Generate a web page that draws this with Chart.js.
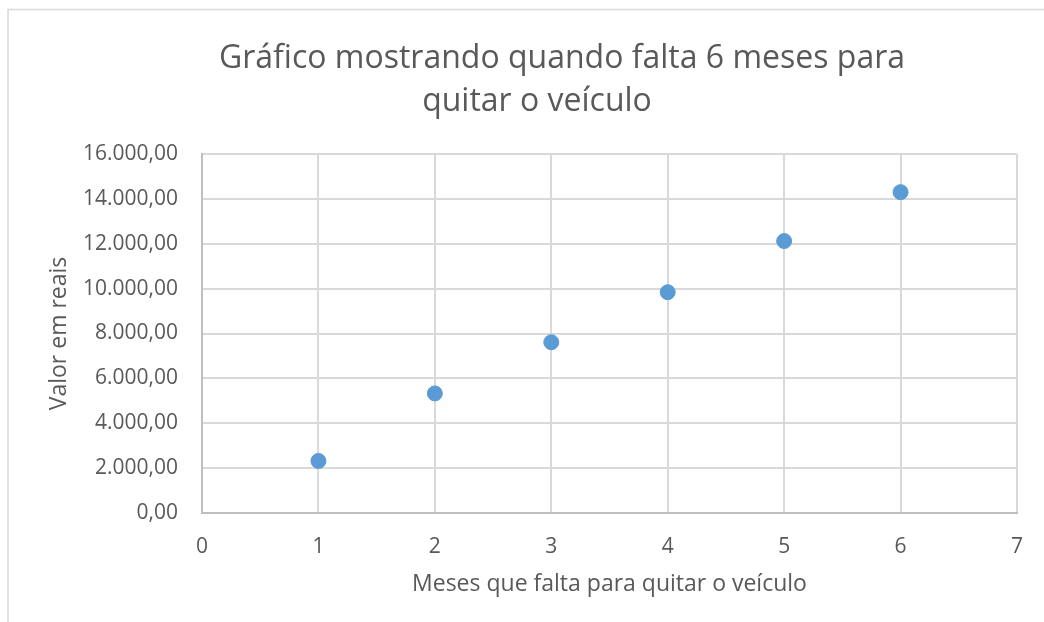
<!DOCTYPE html>
<html>
<head>
<meta charset="utf-8">
<style>
  html, body { margin: 0; padding: 0; background: #fff; }
  .wrap { position: relative; width: 1044px; height: 622px; }
</style>
</head>
<body>
<div class="wrap">
  <canvas id="grafico" width="1044" height="622"></canvas>
</div>

<script src="https://cdn.jsdelivr.net/npm/chart.js"></script>
<script>
// dados
const meses = [1, 2, 3, 4, 5, 6];
const valores = [2320, 5330, 7610, 9840, 12120, 14300];
const tituloLinhas = ['Gráfico mostrando quando falta 6 meses para', 'quitar o veículo'];

const cinza = '#595959';
const fonte = "'Open Sans', 'DejaVu Sans', sans-serif";

// formato 16.000,00
function formatoBR(v) {
  const partes = v.toFixed(2).split('.');
  partes[0] = partes[0].replace(/\B(?=(\d{3})+(?!\d))/g, '.');
  return partes.join(',');
}

// borda do gráfico e título em duas linhas (como no Excel)
const molduraTitulo = {
  id: 'molduraTitulo',
  beforeDraw(chart) {
    const ctx = chart.ctx;
    ctx.save();
    ctx.strokeStyle = '#d9d9d9';
    ctx.lineWidth = 1.5;
    ctx.strokeRect(8, 9.5, 1100, 700);
    ctx.restore();
  },
  afterDraw(chart) {
    const ctx = chart.ctx;
    ctx.save();
    ctx.fillStyle = cinza;
    ctx.font = '32px ' + fonte;
    ctx.textAlign = 'center';
    ctx.textBaseline = 'alphabetic';
    ctx.fillText(tituloLinhas[0], 562, 68);
    ctx.fillText(tituloLinhas[1], 537, 111);
    ctx.restore();
  }
};

const ctx = document.getElementById('grafico').getContext('2d');
new Chart(ctx, {
  type: 'scatter',
  data: {
    datasets: [{
      label: 'Valor',
      data: meses.map((m, i) => ({ x: m, y: valores[i] })),
      backgroundColor: '#5b9bd5',
      borderColor: '#5b9bd5',
      pointRadius: 7.5,
      pointHoverRadius: 7.5
    }]
  },
  options: {
    responsive: false,
    animation: false,
    layout: { padding: { top: 154, right: 15, left: 0, bottom: 0 } },
    plugins: {
      legend: { display: false },
      tooltip: { enabled: false }
    },
    scales: {
      x: {
        type: 'linear',
        min: 0,
        max: 7,
        ticks: {
          stepSize: 1,
          color: cinza,
          padding: 21,
          font: { family: fonte, size: 21 }
        },
        grid: { color: '#d9d9d9', lineWidth: 2, drawTicks: false },
        border: { color: '#bfbfbf', width: 2 },
        title: {
          display: true,
          text: 'Meses que falta para quitar o veículo',
          color: cinza,
          font: { family: fonte, size: 23 },
          padding: { top: 0, bottom: 24 }
        },
        afterFit(scale) { scale.height = 622 - 513; }
      },
      y: {
        min: 0,
        max: 16000,
        ticks: {
          stepSize: 2000,
          color: cinza,
          padding: 24,
          font: { family: fonte, size: 21 },
          callback: (v) => formatoBR(v)
        },
        grid: { color: '#d9d9d9', lineWidth: 2, drawTicks: false },
        border: { color: '#bfbfbf', width: 2 },
        title: {
          display: true,
          text: 'Valor em reais',
          color: cinza,
          font: { family: fonte, size: 23 },
          padding: { top: 46, bottom: 0 }
        },
        afterFit(scale) { scale.width = 202; }
      }
    }
  },
  plugins: [molduraTitulo]
});
</script>
</body>
</html>
